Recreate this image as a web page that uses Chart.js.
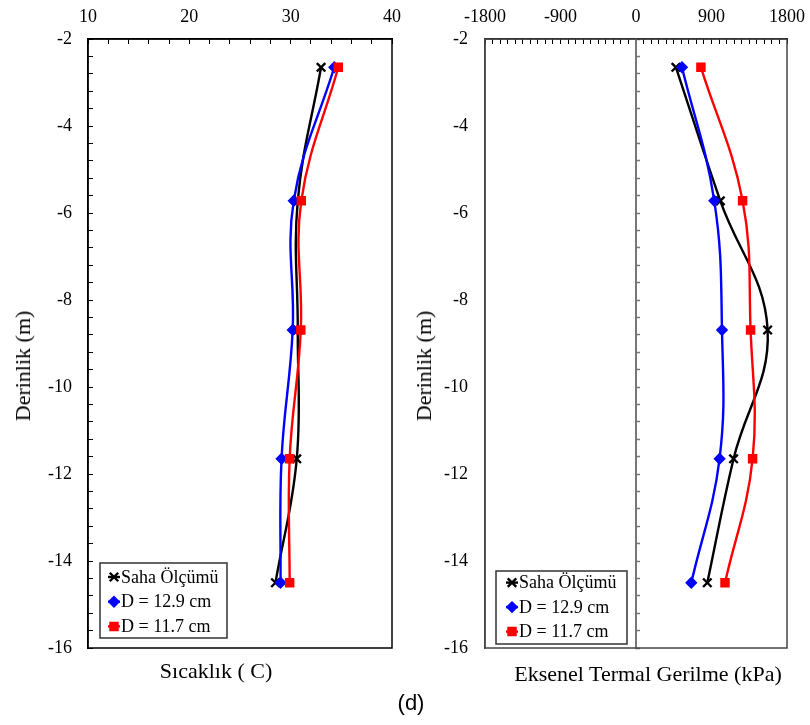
<!DOCTYPE html>
<html>
<head>
<meta charset="utf-8">
<script src="https://cdn.jsdelivr.net/npm/chart.js@4"></script>
<style>
  body { margin: 0; background: #fff; }
  #wrap { position: relative; width: 810px; height: 725px; font-family: "Liberation Serif", serif; color: #000; }
  .pane { position: absolute; top: 0; width: 405px; height: 725px; }
  .label { position: absolute; white-space: nowrap; font-size: 22px; transform: translate(-50%, -50%); }
  .ytitle { transform: translate(-50%, -50%) rotate(-90deg); }
</style>
</head>
<body>
<div id="wrap">
  <div class="pane" style="left:0"><canvas id="tempChart"></canvas></div>
  <div class="pane" style="left:405px"><canvas id="stressChart"></canvas></div>
  <div class="label ytitle" style="left:23px;top:366px">Derinlik (m)</div>
  <div class="label ytitle" style="left:424px;top:366px">Derinlik (m)</div>
  <div class="label" style="left:216px;top:671px">Sıcaklık ( C)</div>
  <div class="label" style="left:648px;top:674px">Eksenel Termal Gerilme (kPa)</div>
  <div class="label" style="left:411px;top:703px;font-family:'Liberation Sans',sans-serif">(d)</div>
</div>
<script>
// depth of each measuring level (m)
const depthM = [-2.65, -5.72, -8.69, -11.65, -14.5];

const seriesNames = ["Saha Ölçümü", "D = 12.9 cm", "D = 11.7 cm"];

// temperature (C)
const tempSaha = [33.0, 30.7, 30.7, 30.6, 28.5];
const tempD129 = [34.3, 30.3, 30.2, 29.1, 29.0];
const tempD117 = [34.7, 31.05, 31.0, 29.9, 29.9];

// axial thermal stress (kPa)
const stressSaha = [476, 1005, 1569, 1163, 850];
const stressD129 = [548, 933, 1025, 996, 659];
const stressD117 = [774, 1271, 1366, 1390, 1061];

const depthTickLabels = [-2, -4, -6, -8, -10, -12, -14, -16];
const tempTickLabels = [10, 20, 30, 40];
const stressTickLabels = [-1800, -900, 0, 900, 1800];

Chart.defaults.font.family = '"Liberation Serif", serif';
Chart.defaults.font.size = 18;
Chart.defaults.color = "#000";

function points(values) {
    return values.map((x, i) => ({ x: x, y: depthM[i] }));
}

function makeDatasets(saha, d129, d117) {
    const common = { borderWidth: 2.4, tension: 0.4, pointBorderWidth: 2.4, clip: false };
    return [
        Object.assign({}, common, {
            label: seriesNames[0], data: points(saha), order: 2,
            borderColor: "#000", backgroundColor: "#000",
            pointStyle: "crossRot", pointRadius: 6,
        }),
        Object.assign({}, common, {
            label: seriesNames[1], data: points(d129), order: 1,
            borderColor: "#0000ff", backgroundColor: "#0000ff",
            pointStyle: "rectRot", pointRadius: 4.5,
        }),
        Object.assign({}, common, {
            label: seriesNames[2], data: points(d117), order: 0,
            borderColor: "#ff0000", backgroundColor: "#ff0000",
            pointStyle: "rect", pointRadius: 5,
        }),
    ];
}

// only show labels listed in the given array, the rest are minor ticks
function labelsFrom(list) {
    return function (value) {
        const hit = list.find((v) => Math.abs(v - value) < 1e-6);
        return hit === undefined ? "" : String(hit);
    };
}

// box around the plot area
const plotFrame = {
    id: "plotFrame",
    beforeDatasetsDraw(chart, args, opts) {
        const a = chart.chartArea;
        const ctx = chart.ctx;
        ctx.save();
        ctx.strokeStyle = opts.color;
        ctx.lineWidth = 1.5;
        ctx.strokeRect(a.left, a.top, a.right - a.left, a.bottom - a.top);
        ctx.restore();
    },
};

// legend box drawn inside the plot area
const boxLegend = {
    id: "boxLegend",
    afterDraw(chart, args, opts) {
        const a = chart.chartArea;
        const ctx = chart.ctx;
        const x = a.left + opts.left;
        const y = a.bottom - opts.bottom - opts.height;
        ctx.save();
        ctx.fillStyle = "#fff";
        ctx.fillRect(x, y, opts.width, opts.height);
        ctx.strokeStyle = "#333";
        ctx.lineWidth = 1.5;
        ctx.strokeRect(x, y, opts.width, opts.height);
        ctx.font = '18px "Liberation Serif"';
        ctx.textBaseline = "middle";
        ctx.textAlign = "left";
        chart.data.datasets.forEach((ds, i) => {
            const rowY = y + opts.firstRow + i * opts.rowGap;
            const mx = x + opts.markerX;
            ctx.strokeStyle = ds.borderColor;
            ctx.fillStyle = ds.backgroundColor;
            ctx.lineWidth = 2.4;
            ctx.beginPath();
            ctx.moveTo(mx - 6, rowY);
            ctx.lineTo(mx + 6, rowY);
            ctx.stroke();
            Chart.helpers.drawPoint(ctx, { pointStyle: ds.pointStyle, radius: ds.pointRadius, borderWidth: ds.pointBorderWidth, rotation: 0 }, mx, rowY);
            ctx.fillStyle = "#000";
            ctx.fillText(ds.label, x + opts.textX, rowY + 1);
        });
        ctx.restore();
    },
};

function depthAxis(width, showTicks, borderColor) {
    return {
        type: "linear",
        position: "left",
        min: -16,
        max: -2,
        afterFit: (scale) => { scale.width = width; },
        ticks: {
            stepSize: 0.4,
            autoSkip: false,
            padding: showTicks ? 21 : 17,
            callback: labelsFrom(depthTickLabels),
        },
        grid: {
            drawOnChartArea: false,
            drawTicks: showTicks,
            tickLength: -5,
            tickColor: "#000",
        },
        border: { display: true, color: borderColor, width: 1.5 },
    };
}

function topAxis(min, max, step, labels) {
    return {
        type: "linear",
        position: "top",
        min: min,
        max: max,
        afterFit: (scale) => {
            scale.height = 39;
            // end labels may hang past the plot edge
            scale.paddingLeft = 0;
            scale.paddingRight = 0;
        },
        ticks: {
            stepSize: step,
            autoSkip: false,
            maxRotation: 0,
            padding: 16,
            callback: labelsFrom(labels),
        },
        grid: {
            drawOnChartArea: false,
            tickLength: -5,
            tickColor: "#000",
        },
        border: { display: true, color: "#000", width: 1.5 },
    };
}

const baseOptions = {
    responsive: true,
    maintainAspectRatio: false,
    animation: false,
    events: [],
    plugins: { legend: { display: false }, tooltip: { enabled: false } },
};

new Chart(document.getElementById("tempChart"), {
    type: "line",
    data: { datasets: makeDatasets(tempSaha, tempD129, tempD117) },
    plugins: [plotFrame, boxLegend],
    options: Object.assign({}, baseOptions, {
        layout: { padding: { left: 0, top: 0, right: 13, bottom: 77 } },
        plugins: Object.assign({}, baseOptions.plugins, {
            plotFrame: { color: "#000" },
            boxLegend: { left: 12, bottom: 10, width: 127, height: 75, firstRow: 14, rowGap: 24.7, markerX: 14, textX: 21 },
        }),
        scales: {
            x: topAxis(10, 40, 2, tempTickLabels),
            y: depthAxis(88, true, "#000"),
        },
    }),
});

new Chart(document.getElementById("stressChart"), {
    type: "line",
    data: { datasets: makeDatasets(stressSaha, stressD129, stressD117) },
    plugins: [plotFrame, boxLegend],
    options: Object.assign({}, baseOptions, {
        layout: { padding: { left: 0, top: 0, right: 23, bottom: 77 } },
        plugins: Object.assign({}, baseOptions.plugins, {
            plotFrame: { color: "#444" },
            boxLegend: { left: 11, bottom: 4, width: 131, height: 73, firstRow: 11.6, rowGap: 24.5, markerX: 16, textX: 23 },
        }),
        scales: {
            x: topAxis(-1800, 1800, 90, stressTickLabels),
            y: depthAxis(80, false, "#444"),
            // zero line carrying the depth ticks
            yZero: {
                type: "linear",
                position: { x: 0 },
                min: -16,
                max: -2,
                ticks: { display: false, stepSize: 0.4, autoSkip: false },
                grid: { drawOnChartArea: false, tickLength: -5, tickColor: "#777", tickWidth: 1.5 },
                border: { display: true, color: "#777", width: 2 },
            },
        },
    }),
});
</script>
</body>
</html>
